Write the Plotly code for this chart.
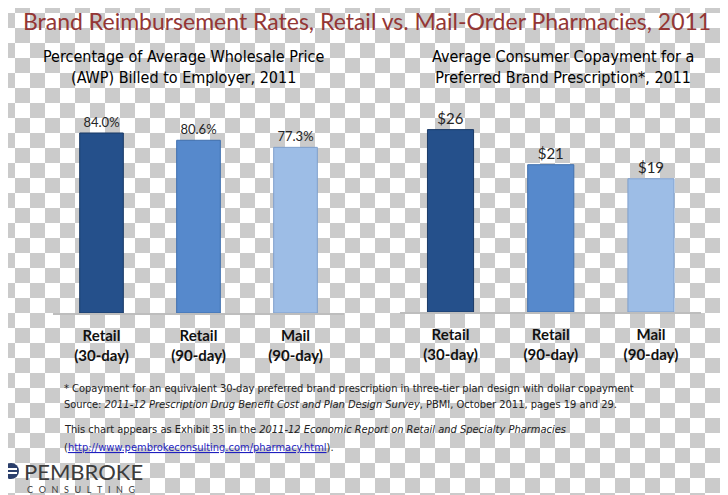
import plotly.graph_objects as go

# ---------------- data ----------------
categories = ["Retail<br>(30-day)", "Retail<br>(90-day)", "Mail<br>(90-day)"]
awp_pct = [84.0, 80.6, 77.3]
copay_usd = [26, 21, 19]
bar_colors = ["#25508b", "#5689cc", "#9dbde6"]
bar_edges = ["#1a3a66", "#3f6fae", "#7f9fcc"]

title_text = "Brand Reimbursement Rates, Retail vs. Mail-Order Pharmacies, 2011"
left_sub = "Percentage of Average Wholesale Price<br>(AWP) Billed to Employer, 2011"
right_sub = "Average Consumer Copayment for a<br>Preferred Brand Prescription*, 2011"

# page layout (the html body has an 8px margin, so the figure starts at screen (8, 8))
OFF = 8
SW, SH = 728, 495
W, H = SW - OFF, SH - OFF
CELL = 15
Y_OFF = 12.7

FONT = "Lato, 'Open Sans', sans-serif"
NARROW = "'Liberation Sans Narrow', 'DejaVu Sans Condensed', sans-serif"


def xf(sx):
    return (sx - OFF) / W


def yf(sy):
    return 1 - (sy - OFF) / H


fig = go.Figure()

# checkerboard background (transparency pattern), in screen pixel coordinates
nx = SW // CELL + 2
ny = SH // CELL + 3
xs = [CELL * i + CELL / 2 for i in range(nx)]
ys = [Y_OFF + CELL * j + CELL / 2 for j in range(-1, ny - 1)]
z = [[1 if (i + j) % 2 == 0 else 0 for i in range(nx)] for j in range(-1, ny - 1)]
fig.add_trace(go.Heatmap(x=xs, y=ys, z=z, colorscale=[[0, "#ffffff"], [1, "#cbcbcb"]],
                         showscale=False, hoverinfo="skip", xaxis="x", yaxis="y", zmin=0, zmax=1))

fig.add_trace(go.Bar(x=categories, y=awp_pct, xaxis="x2", yaxis="y2", width=0.45,
                     marker=dict(color=bar_colors, line=dict(color=bar_edges, width=1)),
                     text=[f"{v:.1f}%" for v in awp_pct], textposition="outside",
                     textfont=dict(family=FONT, size=13, color="#262626"),
                     cliponaxis=False, showlegend=False))
fig.add_trace(go.Bar(x=categories, y=copay_usd, xaxis="x3", yaxis="y3", width=0.46,
                     marker=dict(color=bar_colors, line=dict(color=bar_edges, width=1)),
                     text=[f"${v}" for v in copay_usd], textposition="outside",
                     textfont=dict(family=FONT, size=15, color="#262626"),
                     cliponaxis=False, showlegend=False))

tick_common = dict(showline=True, linecolor="#bdbdbd", linewidth=2, ticks="",
                   tickfont=dict(family=FONT, size=15, color="#111111", weight="bold"),
                   ticklabelstandoff=8,
                   range=[-0.5, 2.5], showgrid=False, zeroline=False, fixedrange=True)

fig.update_layout(
    width=W, height=H, margin=dict(l=0, r=0, t=0, b=0),
    paper_bgcolor="white", plot_bgcolor="rgba(0,0,0,0)",
    xaxis=dict(domain=[0, 1], range=[OFF, SW], visible=False, fixedrange=True),
    yaxis=dict(domain=[0, 1], range=[SH, OFF], visible=False, fixedrange=True),
    xaxis2=dict(domain=[xf(53), xf(344)], anchor="y2", **tick_common),
    yaxis2=dict(domain=[yf(313), yf(113)], range=[0, 200 / 2.143], visible=False, anchor="x2"),
    xaxis3=dict(domain=[xf(400.4), xf(701.1)], anchor="y3", **tick_common),
    yaxis3=dict(domain=[yf(312), yf(112)], range=[0, 200 / 7.015], visible=False, anchor="x3"),
    bargap=0.5,
)

annots = [
    dict(text=title_text, x=xf(367), y=yf(21), font=dict(family=FONT, size=23, color="#943634")),
    dict(text=left_sub, x=xf(183), y=yf(67.5), font=dict(family=NARROW, size=16, color="#000000")),
    dict(text=right_sub, x=xf(563), y=yf(67.5), font=dict(family=NARROW, size=16, color="#000000")),
]
for a in annots:
    a.update(xref="paper", yref="paper", showarrow=False, xanchor="center", yanchor="middle")
    fig.add_annotation(**a)

foot = [
    ("* Copayment for an equivalent 30-day preferred brand prescription in three-tier plan design with dollar copayment", 388),
    ("Source: <i>2011-12 Prescription Drug Benefit Cost and Plan Design Survey</i>, PBMI, October 2011, pages 19 and 29.", 404),
    ("This chart appears as Exhibit 35 in the <i>2011-12 Economic Report on Retail and Specialty Pharmacies</i>", 429),
    ("(<span style='color:#1f1fbf'><u>http://www.pembrokeconsulting.com/pharmacy.html</u></span>).", 447),
]
for t, y in foot:
    fig.add_annotation(text=t, x=xf(62), y=yf(y), xref="paper", yref="paper", showarrow=False,
                       xanchor="left", yanchor="middle",
                       font=dict(family=NARROW, size=11, color="#222222"))

# logo
fig.add_annotation(text="PEMBROKE", x=xf(22), y=yf(471), xref="paper", yref="paper", showarrow=False,
                   xanchor="left", yanchor="middle", font=dict(family=FONT, size=22, color="#3c3c3c"))
fig.add_annotation(text="\u2002\u2009".join("CONSULTING"), x=xf(25), y=yf(489), xref="paper", yref="paper",
                   showarrow=False, xanchor="left", yanchor="middle",
                   font=dict(family=FONT, size=9, color="#3c3c3c"))
fig.add_shape(type="circle", xref="x", yref="y", x0=3, x1=19, y0=463, y1=479,
              fillcolor="#2b3f6c", line=dict(width=0))
fig.add_shape(type="line", xref="x", yref="y", x0=5, x1=17, y0=469, y1=469, line=dict(color="white", width=2))
fig.add_shape(type="line", xref="x", yref="y", x0=5, x1=17, y0=473, y1=473, line=dict(color="white", width=2))

fig.write_html("out.html")
